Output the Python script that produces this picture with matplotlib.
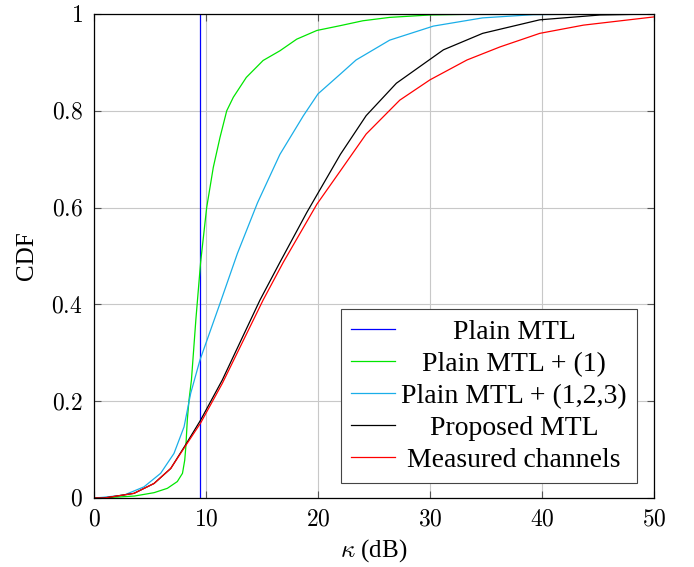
import matplotlib
matplotlib.use("Agg")
import matplotlib.pyplot as plt

plt.rcParams['font.family'] = ['Liberation Serif', 'DejaVu Serif']
plt.rcParams['mathtext.fontset'] = 'cm'

# valeurs
plain_x = [9.5, 9.5]
plain_y = [0, 1]

m1_x = [0, 1.8, 3.6, 5.36, 6.55, 7.44, 7.9, 8.1, 8.2, 8.33, 8.48, 8.7, 9.1, 9.52, 10.06, 10.65, 11.25, 11.85,
        12.44, 13.6, 15.1, 16.6, 18.1, 19.9, 22, 24, 26.4, 30, 35, 50]
m1_y = [0, 0.0016, 0.004, 0.011, 0.020, 0.034, 0.051, 0.078, 0.106, 0.161, 0.202, 0.244, 0.37, 0.487, 0.60, 0.683,
        0.745, 0.80, 0.828, 0.869, 0.904, 0.924, 0.948, 0.966, 0.976, 0.986, 0.993, 0.998, 1, 1]

m123_x = [0, 0.9, 2.68, 4.46, 5.95, 7.14, 8.04, 8.63, 9.46, 11.25, 12.8, 14.6, 16.6, 18.7, 20.0, 22, 23.4,
          26.4, 30.3, 34.7, 39.2, 45, 50]
m123_y = [0, 0.0016, 0.006, 0.023, 0.051, 0.092, 0.147, 0.216, 0.285, 0.402, 0.505, 0.61, 0.71, 0.79, 0.835,
          0.876, 0.905, 0.946, 0.975, 0.992, 0.9986, 1, 1]

prop_x = [0, 0.9, 3.57, 5.36, 6.85, 8.18, 9.52, 11.46, 14.82, 16.6, 19.0, 22, 24.3, 27, 31.2, 34.7, 39.8, 45.2, 50]
prop_y = [0, 0, 0.0096, 0.030, 0.061, 0.110, 0.161, 0.244, 0.409, 0.487, 0.59, 0.71, 0.79, 0.857, 0.926, 0.96,
          0.988, 0.998, 1]

meas_x = [0, 0.9, 3.57, 5.36, 6.85, 8.18, 9.52, 11.46, 15.1, 16.9, 19.9, 22, 24.3, 27.3, 30, 33.3, 36.25, 39.8,
          43.7, 50]
meas_y = [0, 0, 0.0096, 0.030, 0.061, 0.108, 0.155, 0.237, 0.409, 0.487, 0.607, 0.676, 0.752, 0.822, 0.864,
          0.905, 0.932, 0.96, 0.977, 0.994]

labels = ['Plain MTL', 'Plain MTL + (1)', 'Plain MTL + (1,2,3)', 'Proposed MTL', 'Measured channels']
xticks = [0, 10, 20, 30, 40, 50]
yticks = [0, 0.2, 0.4, 0.6, 0.8, 1]
ytick_labels = ['0', '0.2', '0.4', '0.6', '0.8', '1']

fig = plt.figure(figsize=(6.94, 5.67), dpi=100)
ax = fig.add_axes([94/694, 1-498/567, 560/694, 484/567])

lw = 0.9
ax.plot(plain_x, plain_y, color='#0000ff', lw=lw, label=labels[0])
ax.plot(m1_x, m1_y, color='#00e600', lw=lw, label=labels[1])
ax.plot(m123_x, m123_y, color='#1aaee8', lw=lw, label=labels[2])
ax.plot(prop_x, prop_y, color='black', lw=lw, label=labels[3])
ax.plot(meas_x, meas_y, color='#ff0000', lw=lw, label=labels[4])

ax.set_xlim(0, 50)
ax.set_ylim(0, 1)
ax.set_xticks(xticks)
ax.set_xticklabels(['$%d$' % v for v in xticks])
ax.set_yticks(yticks)
ax.set_yticklabels(['$%s$' % s for s in ytick_labels])
ax.tick_params(direction='in', length=5, width=0.8, color='#555555', labelsize=17,
               top=True, right=True, pad=8)
ax.grid(True, color='#c8c8c8', lw=0.8)
for sp in ax.spines.values():
    sp.set_linewidth(0.9)

ax.set_xlabel(r'$\kappa$ (dB)', fontsize=18, labelpad=5)
ax.set_ylabel('CDF', fontsize=18, labelpad=10)

leg = ax.legend(loc='lower right', bbox_to_anchor=(1 - 17/560, 15/484), borderaxespad=0,
                fontsize=20, fancybox=False, framealpha=1, edgecolor='#444444',
                handlelength=1.6, handletextpad=0.22, labelspacing=0.24, borderpad=0.36)
leg.get_frame().set_linewidth(0.8)

# centrer les textes de la légende
fig.canvas.draw()
widths = [t.get_window_extent().width for t in leg.get_texts()]
maxw = max(widths)
for t, w in zip(leg.get_texts(), widths):
    t.set_position(((maxw - w) / 2, 0))

fig.savefig('out.png', dpi=100)
